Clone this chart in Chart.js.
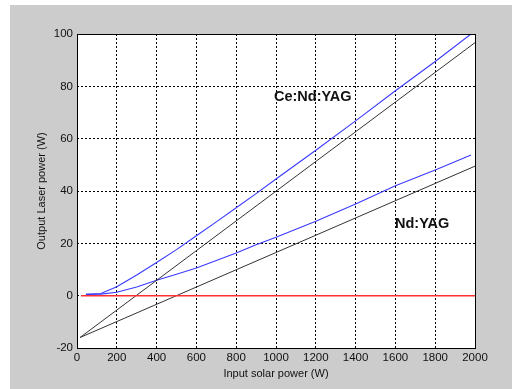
<!DOCTYPE html>
<html><head><meta charset="utf-8">
<script src="https://cdn.jsdelivr.net/npm/chart.js@4/dist/chart.umd.min.js"></script>
<style>html,body{margin:0;padding:0;background:#fff;}canvas{display:block;}</style>
</head><body>
<canvas id="c" width="512" height="389" style="width:512px;height:389px"></canvas>
<script>
const ceX = [45, 120, 200, 300, 400, 500, 600, 700, 800, 900, 1000, 1200, 1400, 1600, 1800, 1980];
const ceY = [0.5, 0.8, 3.4, 7.9, 12.7, 17.6, 22.9, 28.2, 33.6, 39.0, 44.6, 55.6, 66.8, 78.3, 89.5, 100];
const ndX = [45, 120, 200, 300, 400, 500, 600, 700, 800, 900, 1000, 1200, 1400, 1600, 1800, 1980];
const ndY = [0.5, 0.6, 1.3, 3.3, 5.9, 8.2, 10.6, 13.4, 16.3, 19.5, 22.3, 28.4, 35.0, 42.0, 48.0, 53.8];
const fitCeX = [15, 2000];
const fitCeY = [-16, 96.7];
const fitNdX = [15, 2000];
const fitNdY = [-16, 49.5];
const zeroX = [20, 2000];
const zeroY = [0, 0];
const labels = [
  {text: 'Ce:Nd:YAG', x: 990, y: 76},
  {text: 'Nd:YAG', x: 1598, y: 27.5}
];
const xTitle = 'Input solar power (W)';
const yTitle = 'Output Laser power (W)';

const pts = (xs, ys) => xs.map((x, i) => ({x: x, y: ys[i]}));
const FONT = "'Liberation Sans', Arial, sans-serif";

const bgPlugin = {
  id: 'bg',
  beforeDraw(chart) {
    const ctx = chart.ctx, a = chart.chartArea;
    ctx.save();
    ctx.fillStyle = '#fff';
    ctx.fillRect(0, 0, chart.width, chart.height);
    ctx.fillStyle = '#cccccc';
    ctx.fillRect(10, 5, chart.width - 10, chart.height - 5);
    ctx.fillStyle = '#fff';
    ctx.fillRect(a.left, a.top, a.right - a.left, a.bottom - a.top);
    ctx.restore();
  },
  afterDraw(chart) {
    const ctx = chart.ctx, a = chart.chartArea;
    const xs = chart.scales.x, ys = chart.scales.y;
    ctx.save();
    ctx.strokeStyle = '#000';
    ctx.lineWidth = 1;
    ctx.strokeRect(Math.round(a.left) + 0.5, Math.round(a.top) + 0.5, Math.round(a.right - a.left), Math.round(a.bottom - a.top));
    ctx.fillStyle = '#111';
    ctx.font = 'bold 14.5px ' + FONT;
    ctx.textAlign = 'left';
    ctx.textBaseline = 'middle';
    labels.forEach(l => ctx.fillText(l.text, xs.getPixelForValue(l.x), ys.getPixelForValue(l.y)));
    ctx.restore();
  }
};

new Chart(document.getElementById('c'), {
  type: 'scatter',
  data: {
    datasets: [
      {data: pts(zeroX, zeroY), borderColor: '#ff3030', borderWidth: 1.5},
      {data: pts(fitCeX, fitCeY), borderColor: '#333', borderWidth: 1},
      {data: pts(fitNdX, fitNdY), borderColor: '#333', borderWidth: 1},
      {data: pts(ceX, ceY), borderColor: '#3a3aff', borderWidth: 1.1},
      {data: pts(ndX, ndY), borderColor: '#3a3aff', borderWidth: 1.1}
    ]
  },
  options: {
    responsive: false,
    animation: false,
    devicePixelRatio: 1,
    showLine: true,
    elements: {point: {radius: 0}, line: {tension: 0}},
    layout: {padding: {left: 0, top: 34, right: 37, bottom: 0}},
    plugins: {legend: {display: false}, tooltip: {enabled: false}},
    scales: {
      x: {
        type: 'linear', min: 0, max: 2000,
        afterFit(s) { s.height = 41; },
        ticks: {stepSize: 200, color: '#111', font: {family: FONT, size: 11.5}, padding: 3, maxRotation: 0, callback: v => String(v)},
        grid: {color: '#000', lineWidth: 1, drawTicks: false},
        border: {display: false, dash: [2, 2]},
        title: {display: true, text: xTitle, color: '#111', font: {family: FONT, size: 11}, padding: {top: 2, bottom: 8}}
      },
      y: {
        type: 'linear', min: -20, max: 100,
        afterFit(s) { s.width = 77; },
        ticks: {stepSize: 20, color: '#111', font: {family: FONT, size: 11.5}, padding: 4, callback: v => String(v)},
        grid: {color: '#000', lineWidth: 1, drawTicks: false},
        border: {display: false, dash: [2, 2]},
        title: {display: true, text: yTitle, color: '#111', font: {family: FONT, size: 11}, padding: {top: 35, bottom: 0}}
      }
    }
  },
  plugins: [bgPlugin]
});
</script>
</body></html>
